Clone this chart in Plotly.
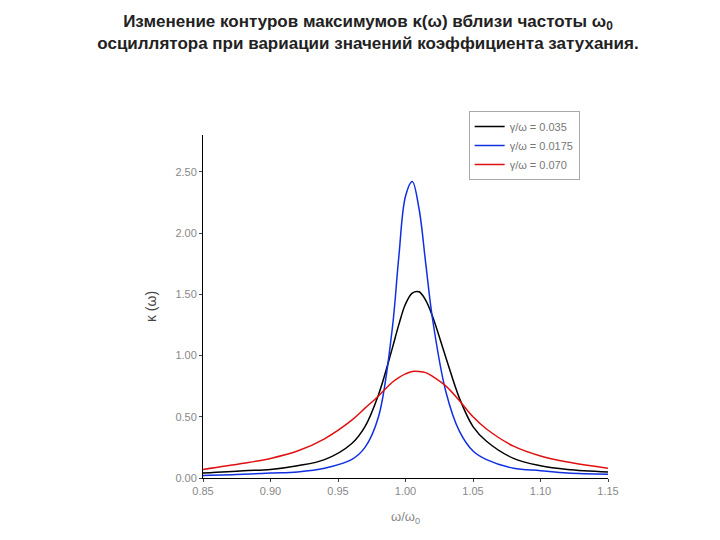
import plotly.graph_objects as go

# omega/omega0 sample points
w = [0.85, 0.88, 0.90, 0.92, 0.94, 0.96, 0.97, 0.98, 0.99, 0.995, 1.0, 1.005,
     1.01, 1.015, 1.02, 1.03, 1.04, 1.05, 1.06, 1.08, 1.10, 1.12, 1.15]
k_035 = [0.04, 0.06, 0.07, 0.10, 0.15, 0.28, 0.42, 0.68, 1.05, 1.25, 1.42, 1.51,
         1.52, 1.45, 1.32, 0.98, 0.65, 0.42, 0.30, 0.16, 0.10, 0.07, 0.05]
k_0175 = [0.02, 0.03, 0.04, 0.05, 0.08, 0.15, 0.25, 0.50, 1.20, 1.80, 2.30, 2.42,
          2.20, 1.75, 1.30, 0.70, 0.38, 0.22, 0.15, 0.08, 0.06, 0.04, 0.03]
k_070 = [0.07, 0.12, 0.16, 0.22, 0.32, 0.47, 0.57, 0.67, 0.78, 0.82, 0.85, 0.87,
         0.87, 0.86, 0.83, 0.75, 0.63, 0.50, 0.40, 0.26, 0.18, 0.13, 0.08]

xticks = [0.85, 0.90, 0.95, 1.00, 1.05, 1.10, 1.15]
yticks = [0.0, 0.5, 1.0, 1.5, 2.0, 2.5]

fig = go.Figure()
for y, name, col in [(k_035, "γ/ω = 0.035", "black"),
                     (k_0175, "γ/ω = 0.0175", "#1030e0"),
                     (k_070, "γ/ω = 0.070", "#e01010")]:
    fig.add_trace(go.Scatter(x=w, y=y, name=name, mode="lines",
                             line=dict(color=col, width=1.5, shape="spline")))

fig.update_layout(
    width=720, height=540,
    plot_bgcolor="white", paper_bgcolor="white",
    margin=dict(l=195, r=120, t=127, b=70),
    font=dict(family="Liberation Sans", color="#888"),
    title=dict(text="<b>Изменение контуров максимумов κ(ω) вблизи частоты ω<sub>0</sub><br>"
                    "осциллятора при вариации значений коэффициента затухания.</b>",
               x=0.5, xanchor="center", y=0.965, yanchor="top",
               font=dict(size=17, color="#222", family="Liberation Sans")),
    legend=dict(x=0.93, xanchor="right", y=1.07, yanchor="top",
                bordercolor="#aaa", borderwidth=1, bgcolor="white",
                font=dict(size=11, color="#777")),
    xaxis=dict(range=[0.85, 1.15], tickvals=xticks, tickformat=".2f",
               showgrid=False, zeroline=False, showline=True, linecolor="black",
               ticks="outside", ticklen=3, tickfont=dict(size=11),
               title=dict(text="ω/ω<sub>0</sub>", font=dict(size=13))),
    yaxis=dict(range=[0, 2.8], tickvals=yticks, tickformat=".2f",
               showgrid=False, zeroline=False, showline=True, linecolor="black",
               ticks="outside", ticklen=3, tickfont=dict(size=11), automargin=False,
               title=dict(text="κ (ω)", font=dict(size=14, color="#444"))),
)
fig.write_html("out.html")
